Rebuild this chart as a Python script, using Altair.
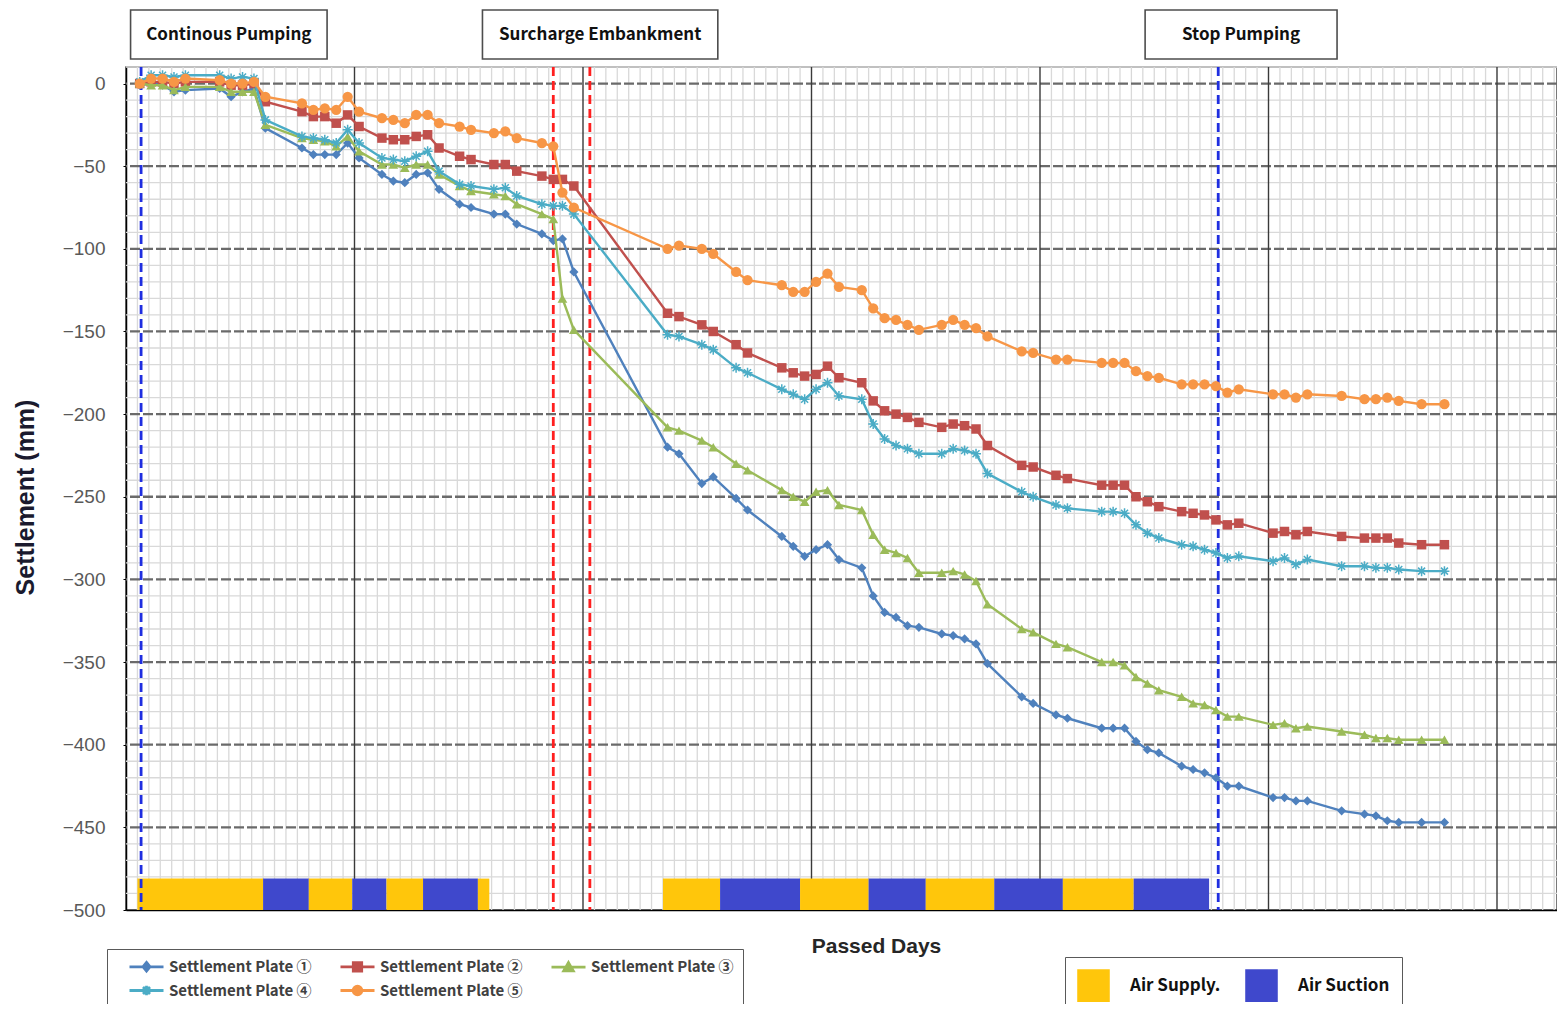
import altair as alt
import pandas as pd

# ---------------- data ----------------
days = [6, 11, 16, 21, 26,
        41, 46, 51, 56, 61,
        77, 82, 87, 92, 97, 102,
        112, 117, 122, 127, 132, 137,
        146, 151, 161, 166, 171,
        182, 187, 191, 196,
        237, 242, 252, 257, 267, 272,
        287, 292, 297, 302, 307, 312,
        322, 327, 332, 337, 342, 347,
        357, 362, 367, 372, 377,
        392, 397, 407, 412,
        427, 432, 437, 442, 447, 452,
        462, 467, 472, 477, 482, 487,
        502, 507, 512, 517,
        532, 542, 547, 552, 557, 567, 577]

plate1 = [-1, 0, -1, -5, -4,
          -3, -8, -5, -3, -27,
          -39, -43, -43, -43, -36, -45,
          -55, -59, -60, -55, -54, -64,
          -73, -75, -79, -79, -85,
          -91, -95, -94, -114,
          -220, -224, -242, -238, -251, -258,
          -274, -280, -286, -282, -279, -288,
          -293, -310, -320, -323, -328, -329,
          -333, -334, -336, -339, -351,
          -371, -375, -382, -384,
          -390, -390, -390, -398, -403, -405,
          -413, -415, -417, -420, -425, -425,
          -432, -432, -434, -434,
          -440, -442, -443, -446, -447, -447, -447]

plate2 = [0, 1, 1, 0, 1,
          1, -1, -1, 0, -11,
          -17, -20, -20, -24, -19, -26,
          -33, -34, -34, -32, -31, -39,
          -44, -46, -49, -49, -53,
          -56, -58, -58, -62,
          -139, -141, -146, -150, -158, -163,
          -172, -175, -177, -176, -171, -178,
          -181, -192, -198, -200, -202, -205,
          -208, -206, -207, -209, -219,
          -231, -232, -237, -239,
          -243, -243, -243, -250, -253, -256,
          -259, -260, -261, -264, -267, -266,
          -272, -271, -273, -271,
          -274, -275, -275, -275, -278, -279, -279]

plate3 = [0, -1, -1, -4, -2,
          -2, -5, -5, -5, -25,
          -33, -34, -35, -38, -32, -41,
          -49, -49, -51, -49, -49, -55,
          -62, -65, -67, -68, -73,
          -79, -82, -130, -149,
          -208, -210, -216, -220, -230, -234,
          -246, -250, -253, -247, -246, -255,
          -258, -273, -282, -284, -287, -296,
          -296, -295, -297, -301, -315,
          -330, -332, -339, -341,
          -350, -350, -352, -359, -363, -367,
          -371, -375, -376, -379, -383, -383,
          -388, -387, -390, -389,
          -392, -394, -396, -396, -397, -397, -397]

plate4 = [1, 5, 5, 4, 5,
          5, 3, 4, 3, -22,
          -32, -33, -34, -36, -28, -36,
          -45, -46, -47, -44, -41, -53,
          -61, -62, -64, -63, -68,
          -73, -74, -74, -79,
          -152, -153, -158, -161, -172, -175,
          -185, -188, -191, -185, -181, -189,
          -191, -206, -215, -219, -221, -224,
          -224, -221, -222, -224, -236,
          -247, -250, -255, -257,
          -259, -259, -260, -267, -272, -275,
          -279, -280, -282, -284, -287, -286,
          -289, -287, -291, -288,
          -292, -292, -293, -293, -294, -295, -295]

plate5 = [0, 3, 3, 1, 3,
          2, 0, 0, 1, -8,
          -12, -16, -15, -16, -8, -17,
          -21, -22, -24, -19, -19, -24,
          -26, -28, -30, -29, -33,
          -36, -38, -66, -75,
          -100, -98, -100, -103, -114, -119,
          -122, -126, -126, -120, -115, -123,
          -125, -136, -142, -143, -146, -149,
          -146, -143, -146, -148, -153,
          -162, -163, -167, -167,
          -169, -169, -169, -174, -177, -178,
          -182, -182, -182, -183, -187, -185,
          -188, -188, -190, -188,
          -189, -191, -191, -190, -192, -194, -194]

series_names = ["Settlement Plate ①", "Settlement Plate ②", "Settlement Plate ③",
                "Settlement Plate ④", "Settlement Plate ⑤"]
series_values = [plate1, plate2, plate3, plate4, plate5]

air_start = [5, 60, 80, 99, 114, 130, 154, 235, 260, 295, 325, 350, 380, 410, 441]
air_end = [60, 80, 99, 114, 130, 154, 159, 260, 295, 325, 350, 380, 410, 441, 474]
air_type = ["Air Supply.", "Air Suction", "Air Supply.", "Air Suction", "Air Supply.",
            "Air Suction", "Air Supply.", "Air Supply.", "Air Suction", "Air Supply.",
            "Air Suction", "Air Supply.", "Air Suction", "Air Supply.", "Air Suction"]

pump_events = [6.6, 478]          # pumping start / stop (blue dashed)
surcharge_events = [187, 203]     # surcharge embankment (red dashed)

ann_labels = ["Continous Pumping", "Surcharge Embankment", "Stop Pumping"]
ann_start = [2, 156, 446]
ann_end = [88, 259, 530]

# ---------------- styling ----------------
PLOT_W, PLOT_H = 1431, 843
PX_PER_DAY = 2.285
X_MAX = PLOT_W / PX_PER_DAY
Y_MIN, Y_MAX = -500, 10

colors = ["#4F81BD", "#C0504D", "#9BBB59", "#4BACC6", "#F79646"]
CJK = "'Noto Sans CJK JP', 'Liberation Sans', sans-serif"
SANS = "'Liberation Sans', Arial, sans-serif"

ASTERISK = "M-1,0L1,0M0,-1L0,1M-0.7,-0.7L0.7,0.7M-0.7,0.7L0.7,-0.7"
point_defs = [
    dict(shape="diamond", size=85, filled=True),
    dict(shape="square", size=90, filled=True),
    dict(shape="triangle-up", size=95, filled=True),
    dict(shape=ASTERISK, size=100, filled=False, strokeWidth=1.5),
    dict(shape="circle", size=105, filled=True),
]
# legend symbols: a line through the marker (unit = 7 px)
legend_paths = [
    "M-2.43,0L2.43,0M0,-0.62L0.5,0L0,0.62L-0.5,0Z",
    "M-2.43,0L2.43,0M-0.6,-0.6L0.6,-0.6L0.6,0.6L-0.6,0.6Z",
    "M-2.43,0L2.43,0M0,-0.65L0.68,0.52L-0.68,0.52Z",
    "M-2.43,0L2.43,0M0,-0.68L0,0.68M-0.5,-0.5L0.5,0.5M-0.5,0.5L0.5,-0.5",
    "M-2.43,0L2.43,0M0.62,0A0.62,0.62,0,1,1,-0.62,0A0.62,0.62,0,1,1,0.62,0Z",
]

xscale = alt.Scale(domain=[0, X_MAX], nice=False, zero=False)
yscale = alt.Scale(domain=[Y_MIN, Y_MAX], nice=False, zero=False)
xaxis = alt.Axis(labels=False, ticks=False, grid=False, domain=True,
                 domainColor="#000000", domainWidth=1.5,
                 title="Passed Days", titleFont=SANS, titleFontSize=21,
                 titleFontWeight="bold", titleColor="#262626",
                 titleX=750, titleY=36, titleBaseline="middle", titleAlign="center")
yaxis = alt.Axis(values=list(range(-500, 1, 50)), grid=False, ticks=True, tickSize=3,
                 tickColor="#000000", domain=True, domainColor="#000000", domainWidth=1.5,
                 labelFont=SANS, labelFontSize=19, labelColor="#595959", labelPadding=18,
                 title="Settlement (mm)", titleFont=SANS, titleFontSize=25,
                 titleFontWeight="bold", titleColor="#1a1a2e",
                 titleX=-101, titleY=430, titleAngle=270,
                 titleBaseline="middle", titleAlign="center")


def X(field):
    return alt.X(field, type="quantitative", scale=xscale, axis=xaxis)


def X2(field):
    return alt.X2(field)


def Y(field):
    return alt.Y(field, type="quantitative", scale=yscale, axis=yaxis)


# ---------------- tables ----------------
long_rows = []
for name, vals in zip(series_names, series_values):
    for d, v in zip(days, vals):
        long_rows.append({"series": name, "day": d, "v": v})
long_df = pd.DataFrame(long_rows)

minor_x = pd.DataFrame({"d": [d for d in range(0, int(X_MAX) + 1, 5) if d % 100 != 0]})
major_x = pd.DataFrame({"d": list(range(100, int(X_MAX) + 1, 100))})
minor_y = pd.DataFrame({"v": [v for v in range(-490, Y_MAX + 1, 10) if v % 50 != 0]})
major_y = pd.DataFrame({"v": list(range(-450, 1, 50))})

air_df = pd.DataFrame({"start": air_start, "end": air_end, "type": air_type})
pump_df = pd.DataFrame({"d": pump_events})
sur_df = pd.DataFrame({"d": surcharge_events})
ann_df = pd.DataFrame({"label": ann_labels, "start": ann_start, "end": ann_end})

# ---------------- layers ----------------
layers = []

layers.append(alt.Chart(minor_x).mark_rule(color="#d9d9d9", strokeWidth=1.3).encode(x=X("d")))
layers.append(alt.Chart(minor_y).mark_rule(color="#d9d9d9", strokeWidth=1.3).encode(y=Y("v")))
layers.append(alt.Chart(major_y).mark_rule(color="#6a6a6a", strokeWidth=2.3, strokeDash=[10, 3]).encode(y=Y("v")))
layers.append(alt.Chart(major_x).mark_rule(color="#3a3a3a", strokeWidth=1.4).encode(x=X("d")))

layers.append(
    alt.Chart(air_df).mark_rect().encode(
        x=X("start"), x2=X2("end"),
        y=alt.Y(datum=-481, type="quantitative", scale=yscale, axis=yaxis),
        y2=alt.Y2(datum=Y_MIN),
        color=alt.Color("type:N",
                        scale=alt.Scale(domain=["Air Supply.", "Air Suction"],
                                        range=["#FFC60B", "#3F48CC"]),
                        legend=alt.Legend(orient="none", legendX=939, legendY=890,
                                          direction="horizontal", title=None,
                                          symbolType="square", symbolSize=1060,
                                          symbolStrokeWidth=0,
                                          labelFont=CJK, labelFontSize=17,
                                          labelFontWeight="bold", labelColor="#111111",
                                          labelOffset=20, columnPadding=24, padding=12,
                                          labelLimit=300,
                                          strokeColor="#595959", fillColor="white"))
    )
)

layers.append(alt.Chart(pump_df).mark_rule(color="#1f2ee0", strokeWidth=2.8, strokeDash=[9, 5]).encode(x=X("d")))
layers.append(alt.Chart(sur_df).mark_rule(color="#ff1f1f", strokeWidth=2.8, strokeDash=[9, 5]).encode(x=X("d")))

for name, col, pdef in zip(series_names, colors, point_defs):
    sub = long_df[long_df["series"] == name]
    layers.append(
        alt.Chart(sub).mark_line(
            color=col, strokeWidth=2.4,
            point=alt.OverlayMarkDef(color=col, **pdef)
        ).encode(x=X("day"), y=Y("v"))
    )

legend_common = dict(orient="none", legendX=-19, legendY=882, columns=3,
                     direction="horizontal", title=None,
                     labelFont=CJK, labelFontSize=15, labelFontWeight="bold",
                     labelColor="#404040", labelLimit=300,
                     symbolSize=196, symbolStrokeWidth=2.8,
                     symbolOpacity=1, labelOffset=14, symbolOffset=22,
                     columnPadding=15, rowPadding=3,
                     padding=9, strokeColor="#595959", fillColor="white")

layers.append(
    alt.Chart(long_df).mark_point(opacity=0, filled=True).encode(
        x=X("day"), y=Y("v"),
        fill=alt.Fill("series:N", scale=alt.Scale(domain=series_names, range=colors),
                      legend=alt.Legend(**legend_common)),
        stroke=alt.Stroke("series:N", scale=alt.Scale(domain=series_names, range=colors),
                          legend=alt.Legend(**legend_common)),
        shape=alt.Shape("series:N", scale=alt.Scale(domain=series_names, range=legend_paths),
                        legend=alt.Legend(**legend_common)),
    )
)

# annotation boxes above the plot
ann_base = alt.Chart(ann_df)
layers.append(
    ann_base.mark_rect(fill="white", stroke="#4d4d4d", strokeWidth=1.6).encode(
        x=X("start"), x2=X2("end"), y=alt.value(-57), y2=alt.value(-8))
)
layers.append(
    ann_base.transform_calculate(mid="(datum.start + datum.end) / 2").mark_text(
        font=CJK, fontSize=17, fontWeight="bold", color="#111111", baseline="middle"
    ).encode(x=X("mid:Q"), y=alt.value(-32), text="label:N")
)

chart = alt.layer(*layers).properties(
    width=PLOT_W, height=PLOT_H,
    padding={"left": 118, "top": 59, "right": 0, "bottom": 94},
    autosize=alt.AutoSizeParams(type="none"),
    background="white",
).configure_view(stroke="#4d4d4d", strokeWidth=1.5)

chart.save("out.html", embed_options={"renderer": "svg", "actions": False})
